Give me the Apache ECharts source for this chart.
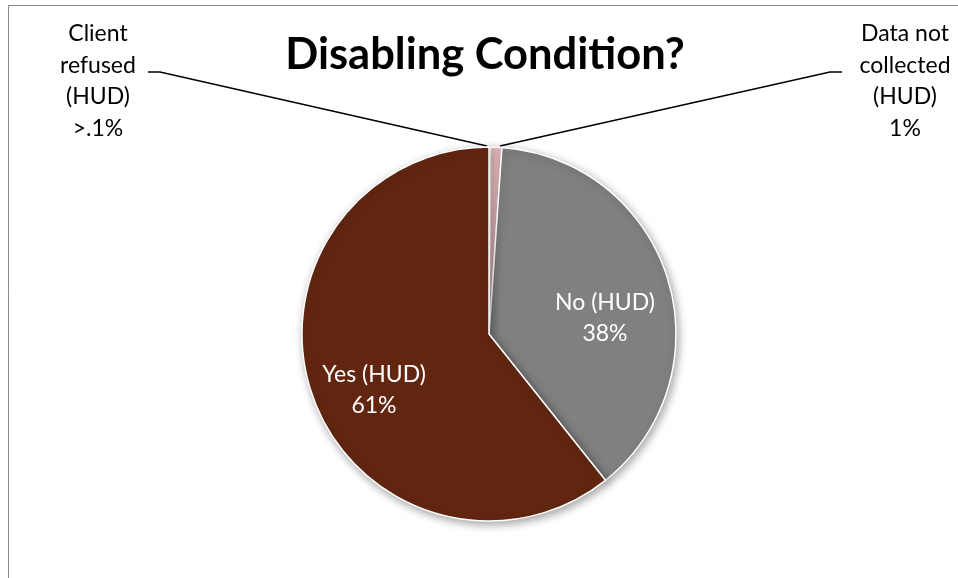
<!DOCTYPE html>
<html>
<head>
<meta charset="utf-8">
<script src="https://cdn.jsdelivr.net/npm/echarts@6/dist/echarts.min.js"></script>
<style>
html,body{margin:0;padding:0;background:#fff;}
#chart{width:958px;height:578px;}
</style>
</head>
<body>
<div id="chart"></div>
<script>
// ---- data ----
var categories = ['Client refused (HUD)', 'Data not collected (HUD)', 'No (HUD)', 'Yes (HUD)'];
var labelNames = ['Client\nrefused\n(HUD)', 'Data not\ncollected\n(HUD)', 'No (HUD)', 'Yes (HUD)'];
var values = [0.15, 0.95, 38.2, 60.7];
var shownPct = ['>.1%', '1%', '38%', '61%'];
var colors = ['#8e1c1c', '#f4c4c8', '#808080', '#622610'];

// ---- label layout (styling only) ----
var labelPos = [
  {x: 98, y: 81, line: [[487, 146], [160, 72], [148, 72]]},
  {x: 905, y: 81, line: [[500, 146], [830, 72], [842, 72]]},
  {x: 605, y: 318},
  {x: 374, y: 390}
];

var chart = echarts.init(document.getElementById('chart'), null, {renderer: 'canvas'});
var FONT = 'Lato, "Open Sans", sans-serif';

var data = categories.map(function (c, i) {
  var inside = i >= 2;
  return {
    name: c,
    value: values[i],
    itemStyle: {color: colors[i]},
    label: {
      show: true,
      position: inside ? 'inside' : 'outside',
      formatter: labelNames[i] + '\n' + shownPct[i],
      color: inside ? '#ffffff' : '#000000',
      fontFamily: FONT,
      fontSize: 23,
      lineHeight: 31.5,
      align: 'center'
    },
    labelLine: {show: !inside, lineStyle: {color: '#000', width: 1.5}, smooth: false}
  };
});

chart.setOption({
  animation: false,
  backgroundColor: '#ffffff',
  title: {
    text: 'Disabling Condition?',
    left: 480,
    top: 28,
    textAlign: 'center',
    textStyle: {fontFamily: FONT, fontWeight: 'bold', fontSize: 43.5, color: '#000'}
  },
  graphic: [
    {type: 'line', shape: {x1: 8.5, y1: 5.5, x2: 958, y2: 5.5}, style: {stroke: '#8a8a8a', lineWidth: 1}, silent: true},
    {type: 'line', shape: {x1: 8.5, y1: 5.5, x2: 8.5, y2: 578}, style: {stroke: '#8a8a8a', lineWidth: 1}, silent: true}
  ],
  series: [{
    type: 'pie',
    center: [489, 334],
    radius: 187,
    startAngle: 90,
    clockwise: true,
    avoidLabelOverlap: false,
    minShowLabelAngle: 0,
    itemStyle: {
      borderColor: '#ffffff',
      borderWidth: 1.5,
      shadowBlur: 8,
      shadowOffsetX: 2,
      shadowOffsetY: 3,
      shadowColor: 'rgba(0,0,0,0.35)'
    },
    emphasis: {disabled: true},
    labelLayout: function (params) {
      var p = labelPos[params.dataIndex];
      var out = {x: p.x, y: p.y, align: 'center', verticalAlign: 'middle'};
      if (p.line) out.labelLinePoints = p.line;
      return out;
    },
    data: data
  }]
});
</script>
</body>
</html>
